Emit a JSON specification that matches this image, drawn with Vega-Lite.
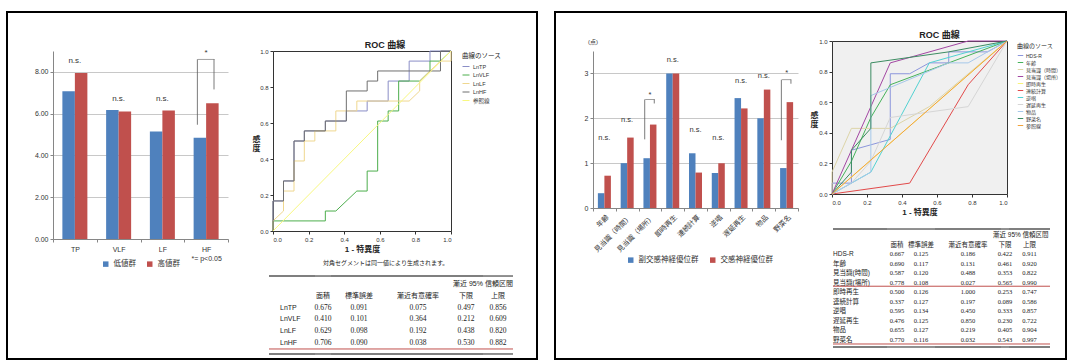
{
"$schema":"https://vega.github.io/schema/vega-lite/v6.json",
"padding":{"left":6,"top":11,"right":0,"bottom":0},
"background":"white",
"config":{"view":{"stroke":null},"font":"Liberation Sans, Noto Sans CJK JP","axis":{"labelColor":"#333333","titleColor":"#222222"},"legend":{"labelColor":"#333333","titleColor":"#222222"},"title":{"color":"#222222"}},
"datasets":{
"one":[{}],
"barsL":[{"cat":"TP","grp":"低値群","val":7.07},{"cat":"TP","grp":"高値群","val":7.95},{"cat":"VLF","grp":"低値群","val":6.18},{"cat":"VLF","grp":"高値群","val":6.10},{"cat":"LF","grp":"低値群","val":5.15},{"cat":"LF","grp":"高値群","val":6.15},{"cat":"HF","grp":"低値群","val":4.85},{"cat":"HF","grp":"高値群","val":6.50}],
"notesL":[{"cat":"TP","label":"n.s.","y":8.52},{"cat":"VLF","label":"n.s.","y":6.71},{"cat":"LF","label":"n.s.","y":6.71},{"cat":"HF","label":"*","y":8.92}],
"bracketL":[{"cat":"HF","lo":5.47,"top":8.6,"hiLo":7.16}],
"barsR":[{"cat":"年齢","grp":"副交感神経優位群","val":0.33},{"cat":"年齢","grp":"交感神経優位群","val":0.72},{"cat":"見当識（時間）","grp":"副交感神経優位群","val":1.0},{"cat":"見当識（時間）","grp":"交感神経優位群","val":1.57},{"cat":"見当識（場所）","grp":"副交感神経優位群","val":1.11},{"cat":"見当識（場所）","grp":"交感神経優位群","val":1.86},{"cat":"即時再生","grp":"副交感神経優位群","val":3.0},{"cat":"即時再生","grp":"交感神経優位群","val":3.0},{"cat":"連続計算","grp":"副交感神経優位群","val":1.22},{"cat":"連続計算","grp":"交感神経優位群","val":0.79},{"cat":"逆唱","grp":"副交感神経優位群","val":0.78},{"cat":"逆唱","grp":"交感神経優位群","val":1.0},{"cat":"遅延再生","grp":"副交感神経優位群","val":2.45},{"cat":"遅延再生","grp":"交感神経優位群","val":2.22},{"cat":"物品","grp":"副交感神経優位群","val":2.0},{"cat":"物品","grp":"交感神経優位群","val":2.64},{"cat":"野菜名","grp":"副交感神経優位群","val":0.89},{"cat":"野菜名","grp":"交感神経優位群","val":2.36}],
"notesR":[{"cat":"年齢","label":"n.s.","y":1.55},{"cat":"見当識（時間）","label":"n.s.","y":1.96},{"cat":"見当識（場所）","label":"*","y":2.51},{"cat":"即時再生","label":"n.s.","y":3.31},{"cat":"連続計算","label":"n.s.","y":1.75},{"cat":"逆唱","label":"n.s.","y":1.57},{"cat":"遅延再生","label":"n.s.","y":2.83},{"cat":"物品","label":"n.s.","y":2.94},{"cat":"野菜名","label":"*","y":3.01}],
"bracketR":[{"cat":"見当識（場所）","lo":1.53,"top":2.42,"hiLo":2.33},{"cat":"野菜名","lo":1.51,"top":2.86,"hiLo":2.77}],
"rocL":[
{"src":"LnTP","i":0,"fpr":0,"tpr":0},{"src":"LnTP","i":1,"fpr":0,"tpr":0.167},{"src":"LnTP","i":2,"fpr":0.059,"tpr":0.167},{"src":"LnTP","i":3,"fpr":0.059,"tpr":0.278},{"src":"LnTP","i":4,"fpr":0.118,"tpr":0.278},{"src":"LnTP","i":5,"fpr":0.118,"tpr":0.5},{"src":"LnTP","i":6,"fpr":0.176,"tpr":0.5},{"src":"LnTP","i":7,"fpr":0.176,"tpr":0.556},{"src":"LnTP","i":8,"fpr":0.294,"tpr":0.556},{"src":"LnTP","i":9,"fpr":0.294,"tpr":0.611},{"src":"LnTP","i":10,"fpr":0.412,"tpr":0.611},{"src":"LnTP","i":11,"fpr":0.412,"tpr":0.667},{"src":"LnTP","i":12,"fpr":0.529,"tpr":0.667},{"src":"LnTP","i":13,"fpr":0.529,"tpr":0.722},{"src":"LnTP","i":14,"fpr":0.647,"tpr":0.722},{"src":"LnTP","i":15,"fpr":0.647,"tpr":0.833},{"src":"LnTP","i":16,"fpr":0.765,"tpr":0.833},{"src":"LnTP","i":17,"fpr":0.765,"tpr":0.944},{"src":"LnTP","i":18,"fpr":0.882,"tpr":0.944},{"src":"LnTP","i":19,"fpr":0.882,"tpr":1},{"src":"LnTP","i":20,"fpr":1,"tpr":1},
{"src":"LnVLF","i":0,"fpr":0,"tpr":0},{"src":"LnVLF","i":1,"fpr":0,"tpr":0.056},{"src":"LnVLF","i":2,"fpr":0.294,"tpr":0.056},{"src":"LnVLF","i":3,"fpr":0.294,"tpr":0.111},{"src":"LnVLF","i":4,"fpr":0.353,"tpr":0.111},{"src":"LnVLF","i":5,"fpr":0.471,"tpr":0.222},{"src":"LnVLF","i":6,"fpr":0.529,"tpr":0.222},{"src":"LnVLF","i":7,"fpr":0.529,"tpr":0.333},{"src":"LnVLF","i":8,"fpr":0.588,"tpr":0.333},{"src":"LnVLF","i":9,"fpr":0.588,"tpr":0.611},{"src":"LnVLF","i":10,"fpr":0.647,"tpr":0.611},{"src":"LnVLF","i":11,"fpr":0.647,"tpr":0.667},{"src":"LnVLF","i":12,"fpr":0.706,"tpr":0.667},{"src":"LnVLF","i":13,"fpr":0.706,"tpr":0.833},{"src":"LnVLF","i":14,"fpr":0.824,"tpr":0.833},{"src":"LnVLF","i":15,"fpr":0.882,"tpr":0.889},{"src":"LnVLF","i":16,"fpr":0.882,"tpr":0.944},{"src":"LnVLF","i":17,"fpr":0.941,"tpr":0.944},{"src":"LnVLF","i":18,"fpr":1,"tpr":1},
{"src":"LnLF","i":0,"fpr":0,"tpr":0},{"src":"LnLF","i":1,"fpr":0,"tpr":0.056},{"src":"LnLF","i":2,"fpr":0.059,"tpr":0.111},{"src":"LnLF","i":3,"fpr":0.059,"tpr":0.222},{"src":"LnLF","i":4,"fpr":0.118,"tpr":0.222},{"src":"LnLF","i":5,"fpr":0.118,"tpr":0.389},{"src":"LnLF","i":6,"fpr":0.176,"tpr":0.389},{"src":"LnLF","i":7,"fpr":0.176,"tpr":0.5},{"src":"LnLF","i":8,"fpr":0.235,"tpr":0.5},{"src":"LnLF","i":9,"fpr":0.235,"tpr":0.556},{"src":"LnLF","i":10,"fpr":0.353,"tpr":0.556},{"src":"LnLF","i":11,"fpr":0.353,"tpr":0.667},{"src":"LnLF","i":12,"fpr":0.471,"tpr":0.667},{"src":"LnLF","i":13,"fpr":0.471,"tpr":0.722},{"src":"LnLF","i":14,"fpr":0.765,"tpr":0.722},{"src":"LnLF","i":15,"fpr":0.824,"tpr":0.778},{"src":"LnLF","i":16,"fpr":0.824,"tpr":0.833},{"src":"LnLF","i":17,"fpr":0.882,"tpr":0.889},{"src":"LnLF","i":18,"fpr":0.941,"tpr":0.944},{"src":"LnLF","i":19,"fpr":1,"tpr":0.944},{"src":"LnLF","i":20,"fpr":1,"tpr":1},
{"src":"LnHF","i":0,"fpr":0,"tpr":0},{"src":"LnHF","i":1,"fpr":0,"tpr":0.167},{"src":"LnHF","i":2,"fpr":0.059,"tpr":0.167},{"src":"LnHF","i":3,"fpr":0.059,"tpr":0.278},{"src":"LnHF","i":4,"fpr":0.118,"tpr":0.278},{"src":"LnHF","i":5,"fpr":0.118,"tpr":0.5},{"src":"LnHF","i":6,"fpr":0.176,"tpr":0.5},{"src":"LnHF","i":7,"fpr":0.176,"tpr":0.556},{"src":"LnHF","i":8,"fpr":0.294,"tpr":0.556},{"src":"LnHF","i":9,"fpr":0.294,"tpr":0.611},{"src":"LnHF","i":10,"fpr":0.412,"tpr":0.611},{"src":"LnHF","i":11,"fpr":0.412,"tpr":0.778},{"src":"LnHF","i":12,"fpr":0.529,"tpr":0.778},{"src":"LnHF","i":13,"fpr":0.529,"tpr":0.833},{"src":"LnHF","i":14,"fpr":0.588,"tpr":0.833},{"src":"LnHF","i":15,"fpr":0.588,"tpr":0.889},{"src":"LnHF","i":16,"fpr":0.941,"tpr":0.889},{"src":"LnHF","i":17,"fpr":0.941,"tpr":1},{"src":"LnHF","i":18,"fpr":1,"tpr":1},
{"src":"参照線","i":0,"fpr":0,"tpr":0},{"src":"参照線","i":1,"fpr":1,"tpr":1}
],
"rocR":[
{"src":"HDS-R","i":0,"fpr":0,"tpr":0},{"src":"HDS-R","i":1,"fpr":0,"tpr":0.071},{"src":"HDS-R","i":2,"fpr":0.111,"tpr":0.071},{"src":"HDS-R","i":3,"fpr":0.111,"tpr":0.286},{"src":"HDS-R","i":4,"fpr":0.333,"tpr":0.357},{"src":"HDS-R","i":5,"fpr":0.333,"tpr":0.786},{"src":"HDS-R","i":6,"fpr":0.444,"tpr":0.786},{"src":"HDS-R","i":7,"fpr":0.556,"tpr":0.857},{"src":"HDS-R","i":8,"fpr":0.667,"tpr":0.857},{"src":"HDS-R","i":9,"fpr":0.667,"tpr":0.929},{"src":"HDS-R","i":10,"fpr":0.889,"tpr":0.929},{"src":"HDS-R","i":11,"fpr":1,"tpr":1},
{"src":"年齢","i":0,"fpr":0,"tpr":0},{"src":"年齢","i":1,"fpr":0.111,"tpr":0.214},{"src":"年齢","i":2,"fpr":0.222,"tpr":0.5},{"src":"年齢","i":3,"fpr":0.333,"tpr":0.714},{"src":"年齢","i":4,"fpr":0.667,"tpr":0.857},{"src":"年齢","i":5,"fpr":1,"tpr":1},
{"src":"見当識（時間）","i":0,"fpr":0,"tpr":0},{"src":"見当識（時間）","i":1,"fpr":0,"tpr":0.143},{"src":"見当識（時間）","i":2,"fpr":0.111,"tpr":0.429},{"src":"見当識（時間）","i":3,"fpr":0.333,"tpr":0.429},{"src":"見当識（時間）","i":4,"fpr":0.556,"tpr":0.571},{"src":"見当識（時間）","i":5,"fpr":1,"tpr":1},
{"src":"見当識（場所）","i":0,"fpr":0,"tpr":0},{"src":"見当識（場所）","i":1,"fpr":0.111,"tpr":0.286},{"src":"見当識（場所）","i":2,"fpr":0.222,"tpr":0.571},{"src":"見当識（場所）","i":3,"fpr":0.333,"tpr":0.857},{"src":"見当識（場所）","i":4,"fpr":0.778,"tpr":1},{"src":"見当識（場所）","i":5,"fpr":1,"tpr":1},
{"src":"即時再生","i":0,"fpr":0,"tpr":0},{"src":"即時再生","i":1,"fpr":1,"tpr":1},
{"src":"連続計算","i":0,"fpr":0,"tpr":0},{"src":"連続計算","i":1,"fpr":0.444,"tpr":0.071},{"src":"連続計算","i":2,"fpr":0.778,"tpr":0.714},{"src":"連続計算","i":3,"fpr":1,"tpr":1},
{"src":"逆唱","i":0,"fpr":0,"tpr":0},{"src":"逆唱","i":1,"fpr":0.222,"tpr":0.143},{"src":"逆唱","i":2,"fpr":0.556,"tpr":0.857},{"src":"逆唱","i":3,"fpr":1,"tpr":1},
{"src":"遅延再生","i":0,"fpr":0,"tpr":0},{"src":"遅延再生","i":1,"fpr":0.111,"tpr":0.071},{"src":"遅延再生","i":2,"fpr":0.222,"tpr":0.214},{"src":"遅延再生","i":3,"fpr":0.333,"tpr":0.5},{"src":"遅延再生","i":4,"fpr":0.556,"tpr":0.536},{"src":"遅延再生","i":5,"fpr":0.778,"tpr":0.571},{"src":"遅延再生","i":6,"fpr":1,"tpr":1},
{"src":"物品","i":0,"fpr":0,"tpr":0},{"src":"物品","i":1,"fpr":0.111,"tpr":0.071},{"src":"物品","i":2,"fpr":0.222,"tpr":0.143},{"src":"物品","i":3,"fpr":0.222,"tpr":0.643},{"src":"物品","i":4,"fpr":0.667,"tpr":0.857},{"src":"物品","i":5,"fpr":0.778,"tpr":0.857},{"src":"物品","i":6,"fpr":0.889,"tpr":0.929},{"src":"物品","i":7,"fpr":1,"tpr":1},
{"src":"野菜名","i":0,"fpr":0,"tpr":0},{"src":"野菜名","i":1,"fpr":0.111,"tpr":0.143},{"src":"野菜名","i":2,"fpr":0.111,"tpr":0.286},{"src":"野菜名","i":3,"fpr":0.222,"tpr":0.429},{"src":"野菜名","i":4,"fpr":0.222,"tpr":0.857},{"src":"野菜名","i":5,"fpr":0.667,"tpr":0.929},{"src":"野菜名","i":6,"fpr":1,"tpr":1},
{"src":"参照線","i":0,"fpr":0,"tpr":0},{"src":"参照線","i":1,"fpr":1,"tpr":1}
],
"tblL":[{"name":"LnTP","area":0.676,"se":0.091,"p":0.075,"lo":0.497,"hi":0.856},{"name":"LnVLF","area":0.410,"se":0.101,"p":0.364,"lo":0.212,"hi":0.609},{"name":"LnLF","area":0.629,"se":0.098,"p":0.192,"lo":0.438,"hi":0.820},{"name":"LnHF","area":0.706,"se":0.090,"p":0.038,"lo":0.530,"hi":0.882}],
"tblR":[{"name":"HDS-R","area":0.667,"se":0.125,"p":0.186,"lo":0.422,"hi":0.911},{"name":"年齢","area":0.690,"se":0.117,"p":0.131,"lo":0.461,"hi":0.920},{"name":"見当識(時間)","area":0.587,"se":0.120,"p":0.488,"lo":0.353,"hi":0.822},{"name":"見当識(場所)","area":0.778,"se":0.108,"p":0.027,"lo":0.565,"hi":0.990},{"name":"即時再生","area":0.500,"se":0.126,"p":1.000,"lo":0.253,"hi":0.747},{"name":"連続計算","area":0.337,"se":0.127,"p":0.197,"lo":0.089,"hi":0.586},{"name":"逆唱","area":0.595,"se":0.134,"p":0.450,"lo":0.333,"hi":0.857},{"name":"遅延再生","area":0.476,"se":0.125,"p":0.850,"lo":0.230,"hi":0.722},{"name":"物品","area":0.655,"se":0.127,"p":0.219,"lo":0.405,"hi":0.904},{"name":"野菜名","area":0.770,"se":0.116,"p":0.032,"lo":0.543,"hi":0.997}]
},
"spacing":0,
"bounds":"flush",
"resolve":{"scale":{"x":"independent","y":"independent","color":"independent","xOffset":"independent"},"legend":{"color":"independent"},"axis":{"x":"independent","y":"independent"}},
"hconcat":[
{"vconcat":[
 {"width":530,"height":347,"data":{"name":"one"},"mark":{"type":"point","size":0,"filled":true,"opacity":0},"view":{"stroke":"#000000","strokeWidth":2}}
],"spacing":0,"bounds":"flush"},
{"hconcat":[
 {"width":548,"height":0.01,"data":{"name":"one"},"mark":{"type":"point","size":0,"filled":true,"opacity":0}},
 {"width":511,"height":347,"data":{"name":"one"},"mark":{"type":"point","size":0,"filled":true,"opacity":0},"view":{"stroke":"#000000","strokeWidth":2}}
],"spacing":0,"bounds":"flush"},
{"hconcat":[
 {"width":46,"height":0.01,"data":{"name":"one"},"mark":{"type":"point","size":0,"filled":true,"opacity":0}},
 {"vconcat":[
  {"width":0.01,"height":39,"data":{"name":"one"},"mark":{"type":"point","size":0,"filled":true,"opacity":0}},
  {"width":175,"height":188,"layer":[
    {"data":{"name":"barsL"},"mark":{"type":"bar"},"encoding":{
     "x":{"field":"cat","type":"nominal","scale":{"domain":["TP","VLF","LF","HF"],"paddingInner":0,"paddingOuter":0},"axis":{"title":null,"labelAngle":0,"tickBand":"extent","tickSize":3,"domainColor":"#868686","tickColor":"#868686","labelFontSize":7,"labelPadding":3,"labelLineHeight":9,"labelExpr":"datum.value == 'HF' ? ['HF', '*= p<0.05'] : datum.value"}},
     "xOffset":{"field":"grp","type":"nominal","scale":{"domain":["低値群","高値群"],"paddingInner":0,"paddingOuter":0.75}},
     "y":{"field":"val","type":"quantitative","scale":{"domain":[0,9],"nice":false},"axis":{"title":null,"values":[0,1,2,3,4,5,6,7,8,9],"format":".2f","tickSize":3,"labelFontSize":7,"labelPadding":2,"domainColor":"#868686","tickColor":"#868686","gridColor":"#c8c8c8"}},
     "color":{"field":"grp","type":"nominal","scale":{"domain":["低値群","高値群"],"range":["#4f81bd","#c0504d"]},"legend":{"title":null,"orient":"none","legendX":95,"legendY":248,"direction":"horizontal","symbolType":"square","symbolSize":30,"labelFontSize":7.5,"columnPadding":10}}}},
    {"data":{"name":"notesL"},"mark":{"type":"text","fontSize":8,"color":"#333333"},"encoding":{
     "x":{"field":"cat","type":"nominal","scale":{"domain":["TP","VLF","LF","HF"],"paddingInner":0,"paddingOuter":0}},
     "y":{"field":"y","type":"quantitative","scale":{"domain":[0,9],"nice":false}},
     "text":{"field":"label"}}},
    {"data":{"name":"bracketL"},"mark":{"type":"rule","color":"#595959","strokeWidth":0.8},"encoding":{
     "x":{"field":"cat","type":"nominal","bandPosition":0.3,"scale":{"domain":["TP","VLF","LF","HF"],"paddingInner":0,"paddingOuter":0}},
     "y":{"field":"lo","type":"quantitative","scale":{"domain":[0,9],"nice":false}},"y2":{"field":"top"}}},
    {"data":{"name":"bracketL"},"mark":{"type":"rule","color":"#595959","strokeWidth":0.8},"encoding":{
     "x":{"field":"cat","type":"nominal","bandPosition":0.68,"scale":{"domain":["TP","VLF","LF","HF"],"paddingInner":0,"paddingOuter":0}},
     "y":{"field":"hiLo","type":"quantitative","scale":{"domain":[0,9],"nice":false}},"y2":{"field":"top"}}},
    {"data":{"name":"bracketL"},"mark":{"type":"tick","color":"#595959","thickness":0.8,"size":17},"encoding":{
     "x":{"field":"cat","type":"nominal","scale":{"domain":["TP","VLF","LF","HF"],"paddingInner":0,"paddingOuter":0}},
     "y":{"field":"top","type":"quantitative","scale":{"domain":[0,9],"nice":false}}}}
  ]}
 ],"spacing":0,"bounds":"flush"}
],"spacing":0,"bounds":"flush"},
{"hconcat":[
 {"width":266,"height":0.01,"data":{"name":"one"},"mark":{"type":"point","size":0,"filled":true,"opacity":0}},
 {"vconcat":[
  {"width":0.01,"height":39,"data":{"name":"one"},"mark":{"type":"point","size":0,"filled":true,"opacity":0}},
  {"width":178,"height":180,"view":{"stroke":"#333333","strokeWidth":1},
    "title":{"text":"ROC 曲線","fontSize":9,"fontWeight":"bold","frame":"group","anchor":"middle","offset":-2,"dx":23},
    "data":{"name":"rocL"},"mark":{"type":"line","strokeWidth":1},
    "encoding":{
     "x":{"field":"fpr","type":"quantitative","scale":{"domain":[0,1],"nice":false},"axis":{"title":"1 - 特異度","values":[0,0.2,0.4,0.6,0.8,1],"format":".1f","grid":false,"domain":false,"tickSize":3,"tickColor":"#333333","labelFontSize":6,"labelPadding":2,"titleFontSize":8,"titleFontWeight":"bold","titlePadding":3}},
     "y":{"field":"tpr","type":"quantitative","scale":{"domain":[0,1],"nice":false},"axis":{"title":["感","度"],"titleAngle":0,"titleAlign":"center","titleBaseline":"middle","titleX":-17,"titleY":88,"titleFontSize":8,"titleFontWeight":"bold","titleLineHeight":9,"values":[0,0.2,0.4,0.6,0.8,1],"format":".1f","grid":false,"domain":false,"tickSize":3,"tickColor":"#333333","labelFontSize":6,"labelPadding":2}},
     "color":{"field":"src","type":"nominal","scale":{"domain":["LnTP","LnVLF","LnLF","LnHF","参照線"],"range":["#8a8ec6","#4cae4c","#efd78f","#6f6f6f","#f8f880"]},"legend":{"title":"曲線のソース","orient":"none","legendX":455,"legendY":41,"padding":0,"titleFontSize":6.5,"titleFontWeight":"normal","titlePadding":3,"labelFontSize":5.5,"symbolSize":49,"symbolStrokeWidth":1,"rowPadding":0.5,"labelOffset":3}},
     "order":{"field":"i","type":"quantitative"}}}
 ],"spacing":0,"bounds":"flush"}
],"spacing":0,"bounds":"flush"},
{"hconcat":[
 {"width":586,"height":0.01,"data":{"name":"one"},"mark":{"type":"point","size":0,"filled":true,"opacity":0}},
 {"vconcat":[
  {"width":0.01,"height":39,"data":{"name":"one"},"mark":{"type":"point","size":0,"filled":true,"opacity":0}},
  {"width":205,"height":157,
     "title":{"text":"(点)","anchor":"start","frame":"group","fontSize":6,"fontWeight":"normal","offset":6,"dx":-5,"color":"#333333"},
     "layer":[
     {"data":{"name":"barsR"},"mark":{"type":"bar"},"encoding":{
      "x":{"field":"cat","type":"nominal","scale":{"domain":["年齢","見当識（時間）","見当識（場所）","即時再生","連続計算","逆唱","遅延再生","物品","野菜名"],"paddingInner":0,"paddingOuter":0},"axis":{"title":null,"labelAngle":-45,"tickBand":"extent","tickSize":3,"domainColor":"#868686","tickColor":"#868686","labelFontSize":7,"labelPadding":2}},
      "xOffset":{"field":"grp","type":"nominal","scale":{"domain":["副交感神経優位群","交感神経優位群"],"paddingInner":0,"paddingOuter":0.75}},
      "y":{"field":"val","type":"quantitative","scale":{"domain":[0,3.5],"nice":false},"axis":{"title":null,"values":[0,0.5,1,1.5,2,2.5,3,3.5],"format":"~g","tickSize":3,"labelFontSize":7,"labelPadding":2,"domainColor":"#868686","tickColor":"#868686","gridColor":"#c8c8c8"}},
      "color":{"field":"grp","type":"nominal","scale":{"domain":["副交感神経優位群","交感神経優位群"],"range":["#4f81bd","#c0504d"]},"legend":{"title":null,"orient":"none","legendX":620,"legendY":244,"direction":"horizontal","symbolType":"square","symbolSize":30,"labelFontSize":7.5,"columnPadding":10}}}},
     {"data":{"name":"notesR"},"mark":{"type":"text","fontSize":7.5,"color":"#333333"},"encoding":{
      "x":{"field":"cat","type":"nominal","scale":{"domain":["年齢","見当識（時間）","見当識（場所）","即時再生","連続計算","逆唱","遅延再生","物品","野菜名"],"paddingInner":0,"paddingOuter":0}},
      "y":{"field":"y","type":"quantitative","scale":{"domain":[0,3.5],"nice":false}},
      "text":{"field":"label"}}},
     {"data":{"name":"bracketR"},"mark":{"type":"rule","color":"#595959","strokeWidth":0.8},"encoding":{
      "x":{"field":"cat","type":"nominal","bandPosition":0.27,"scale":{"domain":["年齢","見当識（時間）","見当識（場所）","即時再生","連続計算","逆唱","遅延再生","物品","野菜名"],"paddingInner":0,"paddingOuter":0}},
      "y":{"field":"lo","type":"quantitative","scale":{"domain":[0,3.5],"nice":false}},"y2":{"field":"top"}}},
     {"data":{"name":"bracketR"},"mark":{"type":"rule","color":"#595959","strokeWidth":0.8},"encoding":{
      "x":{"field":"cat","type":"nominal","bandPosition":0.69,"scale":{"domain":["年齢","見当識（時間）","見当識（場所）","即時再生","連続計算","逆唱","遅延再生","物品","野菜名"],"paddingInner":0,"paddingOuter":0}},
      "y":{"field":"hiLo","type":"quantitative","scale":{"domain":[0,3.5],"nice":false}},"y2":{"field":"top"}}},
     {"data":{"name":"bracketR"},"mark":{"type":"tick","color":"#595959","thickness":0.8,"size":9.5},"encoding":{
      "x":{"field":"cat","type":"nominal","scale":{"domain":["年齢","見当識（時間）","見当識（場所）","即時再生","連続計算","逆唱","遅延再生","物品","野菜名"],"paddingInner":0,"paddingOuter":0}},
      "y":{"field":"top","type":"quantitative","scale":{"domain":[0,3.5],"nice":false}}}}
  ]}
 ],"spacing":0,"bounds":"flush"}
],"spacing":0,"bounds":"flush"},
{"hconcat":[
 {"width":825,"height":0.01,"data":{"name":"one"},"mark":{"type":"point","size":0,"filled":true,"opacity":0}},
 {"vconcat":[
  {"width":0.01,"height":29,"data":{"name":"one"},"mark":{"type":"point","size":0,"filled":true,"opacity":0}},
  {"width":175,"height":153,"view":{"stroke":"#333333","strokeWidth":1,"fill":"#f0f0f0"},
    "title":{"text":"ROC 曲線","fontSize":9,"fontWeight":"bold","frame":"group","anchor":"middle","offset":-2,"dx":20},
    "data":{"name":"rocR"},"mark":{"type":"line","strokeWidth":1},
    "encoding":{
     "x":{"field":"fpr","type":"quantitative","scale":{"domain":[0,1],"nice":false},"axis":{"title":"1 - 特異度","values":[0,0.2,0.4,0.6,0.8,1],"format":".1f","grid":false,"domain":false,"tickSize":3,"tickColor":"#333333","labelFontSize":6,"labelPadding":2,"titleFontSize":8,"titleFontWeight":"bold","titlePadding":3}},
     "y":{"field":"tpr","type":"quantitative","scale":{"domain":[0,1],"nice":false},"axis":{"title":["感","度"],"titleAngle":0,"titleAlign":"center","titleBaseline":"middle","titleX":-18,"titleY":74,"titleFontSize":8,"titleFontWeight":"bold","titleLineHeight":9,"values":[0,0.2,0.4,0.6,0.8,1],"format":".1f","grid":false,"domain":false,"tickSize":3,"tickColor":"#333333","labelFontSize":6,"labelPadding":2}},
     "color":{"field":"src","type":"nominal","scale":{"domain":["HDS-R","年齢","見当識（時間）","見当識（場所）","即時再生","連続計算","逆唱","遅延再生","物品","野菜名","参照線"],"range":["#8c96dc","#45b25a","#ddd5a8","#a347a3","#f7f27a","#e24a4a","#52d2d2","#d6d6d6","#a6c8ea","#3c8c62","#f2a33a"]},"legend":{"title":"曲線のソース","orient":"none","legendX":1010,"legendY":31,"padding":0,"titleFontSize":6,"titleFontWeight":"normal","titlePadding":3,"labelFontSize":5,"symbolSize":30,"symbolStrokeWidth":1,"rowPadding":0,"labelOffset":2}},
     "order":{"field":"i","type":"quantitative"}}}
 ],"spacing":0,"bounds":"flush"}
],"spacing":0,"bounds":"flush"},
{"hconcat":[
 {"width":262,"height":0.01,"data":{"name":"one"},"mark":{"type":"point","size":0,"filled":true,"opacity":0}},
 {"vconcat":[
  {"width":0.01,"height":264,"data":{"name":"one"},"mark":{"type":"point","size":0,"filled":true,"opacity":0}},
  {"hconcat":[
   {"width":46,"height":75,"layer":[
     {"data":{"name":"tblL"},"mark":{"type":"text","font":"Liberation Sans","fontSize":7,"color":"#222222","align":"left","dx":-12},"encoding":{"y":{"field":"name","type":"nominal","scale":{"type":"point","domain":["ci","hdr","LnTP","LnVLF","LnLF","LnHF"],"padding":0.68},"axis":null},"text":{"field":"name"}}},
     {"data":{"name":"one"},"mark":{"type":"rule","color":"#555555","strokeWidth":1.3,"yOffset":-8},"encoding":{"y":{"datum":"ci","type":"nominal","scale":{"type":"point","domain":["ci","hdr","LnTP","LnVLF","LnLF","LnHF"],"padding":0.68},"axis":null}}},
     {"data":{"name":"one"},"mark":{"type":"rule","color":"#c0504d","strokeWidth":1,"yOffset":6},"encoding":{"y":{"datum":"LnHF","type":"nominal","scale":{"type":"point","domain":["ci","hdr","LnTP","LnVLF","LnLF","LnHF"],"padding":0.68},"axis":null}}},
     {"data":{"name":"one"},"mark":{"type":"rule","color":"#555555","strokeWidth":1.3,"yOffset":11},"encoding":{"y":{"datum":"LnHF","type":"nominal","scale":{"type":"point","domain":["ci","hdr","LnTP","LnVLF","LnLF","LnHF"],"padding":0.68},"axis":null}}}
   ]},
   {"width":16,"height":75,
    "title":{"text":"対角セグメントは同一値により生成されます。","fontSize":6,"fontWeight":"normal","anchor":"start","frame":"group","offset":9,"dx":8},
    "layer":[
     {"data":{"name":"tblL"},"mark":{"type":"text","font":"Liberation Serif","fontSize":7.5,"color":"#222222"},"encoding":{"y":{"field":"name","type":"nominal","scale":{"type":"point","domain":["ci","hdr","LnTP","LnVLF","LnLF","LnHF"],"padding":0.68},"axis":null},"text":{"field":"area","type":"quantitative","format":".3f"}}},
     {"data":{"name":"one"},"mark":{"type":"text","fontSize":7,"color":"#222222"},"encoding":{"y":{"datum":"hdr","type":"nominal","scale":{"type":"point","domain":["ci","hdr","LnTP","LnVLF","LnLF","LnHF"],"padding":0.68},"axis":null},"text":{"value":"面積"}}},
     {"data":{"name":"one"},"mark":{"type":"rule","color":"#555555","strokeWidth":1.3,"yOffset":-8},"encoding":{"y":{"datum":"ci","type":"nominal","scale":{"type":"point","domain":["ci","hdr","LnTP","LnVLF","LnLF","LnHF"],"padding":0.68},"axis":null}}},
     {"data":{"name":"one"},"mark":{"type":"rule","color":"#c0504d","strokeWidth":1,"yOffset":6},"encoding":{"y":{"datum":"LnHF","type":"nominal","scale":{"type":"point","domain":["ci","hdr","LnTP","LnVLF","LnLF","LnHF"],"padding":0.68},"axis":null}}},
     {"data":{"name":"one"},"mark":{"type":"rule","color":"#555555","strokeWidth":1.3,"yOffset":11},"encoding":{"y":{"datum":"LnHF","type":"nominal","scale":{"type":"point","domain":["ci","hdr","LnTP","LnVLF","LnLF","LnHF"],"padding":0.68},"axis":null}}}
   ]},
   {"width":56,"height":75,"layer":[
     {"data":{"name":"tblL"},"mark":{"type":"text","font":"Liberation Serif","fontSize":7.5,"color":"#222222"},"encoding":{"y":{"field":"name","type":"nominal","scale":{"type":"point","domain":["ci","hdr","LnTP","LnVLF","LnLF","LnHF"],"padding":0.68},"axis":null},"text":{"field":"se","type":"quantitative","format":".3f"}}},
     {"data":{"name":"one"},"mark":{"type":"text","fontSize":7,"color":"#222222"},"encoding":{"y":{"datum":"hdr","type":"nominal","scale":{"type":"point","domain":["ci","hdr","LnTP","LnVLF","LnLF","LnHF"],"padding":0.68},"axis":null},"text":{"value":"標準誤差"}}},
     {"data":{"name":"one"},"mark":{"type":"rule","color":"#555555","strokeWidth":1.3,"yOffset":-8},"encoding":{"y":{"datum":"ci","type":"nominal","scale":{"type":"point","domain":["ci","hdr","LnTP","LnVLF","LnLF","LnHF"],"padding":0.68},"axis":null}}},
     {"data":{"name":"one"},"mark":{"type":"rule","color":"#c0504d","strokeWidth":1,"yOffset":6},"encoding":{"y":{"datum":"LnHF","type":"nominal","scale":{"type":"point","domain":["ci","hdr","LnTP","LnVLF","LnLF","LnHF"],"padding":0.68},"axis":null}}},
     {"data":{"name":"one"},"mark":{"type":"rule","color":"#555555","strokeWidth":1.3,"yOffset":11},"encoding":{"y":{"datum":"LnHF","type":"nominal","scale":{"type":"point","domain":["ci","hdr","LnTP","LnVLF","LnLF","LnHF"],"padding":0.68},"axis":null}}}
   ]},
   {"width":62,"height":75,"layer":[
     {"data":{"name":"tblL"},"mark":{"type":"text","font":"Liberation Serif","fontSize":7.5,"color":"#222222"},"encoding":{"y":{"field":"name","type":"nominal","scale":{"type":"point","domain":["ci","hdr","LnTP","LnVLF","LnLF","LnHF"],"padding":0.68},"axis":null},"text":{"field":"p","type":"quantitative","format":".3f"}}},
     {"data":{"name":"one"},"mark":{"type":"text","fontSize":7,"color":"#222222"},"encoding":{"y":{"datum":"hdr","type":"nominal","scale":{"type":"point","domain":["ci","hdr","LnTP","LnVLF","LnLF","LnHF"],"padding":0.68},"axis":null},"text":{"value":"漸近有意確率"}}},
     {"data":{"name":"one"},"mark":{"type":"rule","color":"#555555","strokeWidth":1.3,"yOffset":-8},"encoding":{"y":{"datum":"ci","type":"nominal","scale":{"type":"point","domain":["ci","hdr","LnTP","LnVLF","LnLF","LnHF"],"padding":0.68},"axis":null}}},
     {"data":{"name":"one"},"mark":{"type":"rule","color":"#c0504d","strokeWidth":1,"yOffset":6},"encoding":{"y":{"datum":"LnHF","type":"nominal","scale":{"type":"point","domain":["ci","hdr","LnTP","LnVLF","LnLF","LnHF"],"padding":0.68},"axis":null}}},
     {"data":{"name":"one"},"mark":{"type":"rule","color":"#555555","strokeWidth":1.3,"yOffset":11},"encoding":{"y":{"datum":"LnHF","type":"nominal","scale":{"type":"point","domain":["ci","hdr","LnTP","LnVLF","LnLF","LnHF"],"padding":0.68},"axis":null}}}
   ]},
   {"width":34,"height":75,"layer":[
     {"data":{"name":"tblL"},"mark":{"type":"text","font":"Liberation Serif","fontSize":7.5,"color":"#222222"},"encoding":{"y":{"field":"name","type":"nominal","scale":{"type":"point","domain":["ci","hdr","LnTP","LnVLF","LnLF","LnHF"],"padding":0.68},"axis":null},"text":{"field":"lo","type":"quantitative","format":".3f"}}},
     {"data":{"name":"one"},"mark":{"type":"text","fontSize":7,"color":"#222222"},"encoding":{"y":{"datum":"hdr","type":"nominal","scale":{"type":"point","domain":["ci","hdr","LnTP","LnVLF","LnLF","LnHF"],"padding":0.68},"axis":null},"text":{"value":"下限"}}},
     {"data":{"name":"one"},"mark":{"type":"text","fontSize":7,"color":"#222222","align":"left","dx":-13},"encoding":{"y":{"datum":"ci","type":"nominal","scale":{"type":"point","domain":["ci","hdr","LnTP","LnVLF","LnLF","LnHF"],"padding":0.68},"axis":null},"text":{"value":"漸近 95% 信頼区間"}}},
     {"data":{"name":"one"},"mark":{"type":"rule","color":"#555555","strokeWidth":1.3,"yOffset":-8},"encoding":{"y":{"datum":"ci","type":"nominal","scale":{"type":"point","domain":["ci","hdr","LnTP","LnVLF","LnLF","LnHF"],"padding":0.68},"axis":null}}},
     {"data":{"name":"one"},"mark":{"type":"rule","color":"#c0504d","strokeWidth":1,"yOffset":6},"encoding":{"y":{"datum":"LnHF","type":"nominal","scale":{"type":"point","domain":["ci","hdr","LnTP","LnVLF","LnLF","LnHF"],"padding":0.68},"axis":null}}},
     {"data":{"name":"one"},"mark":{"type":"rule","color":"#555555","strokeWidth":1.3,"yOffset":11},"encoding":{"y":{"datum":"LnHF","type":"nominal","scale":{"type":"point","domain":["ci","hdr","LnTP","LnVLF","LnLF","LnHF"],"padding":0.68},"axis":null}}}
   ]},
   {"width":30,"height":75,"layer":[
     {"data":{"name":"tblL"},"mark":{"type":"text","font":"Liberation Serif","fontSize":7.5,"color":"#222222"},"encoding":{"y":{"field":"name","type":"nominal","scale":{"type":"point","domain":["ci","hdr","LnTP","LnVLF","LnLF","LnHF"],"padding":0.68},"axis":null},"text":{"field":"hi","type":"quantitative","format":".3f"}}},
     {"data":{"name":"one"},"mark":{"type":"text","fontSize":7,"color":"#222222"},"encoding":{"y":{"datum":"hdr","type":"nominal","scale":{"type":"point","domain":["ci","hdr","LnTP","LnVLF","LnLF","LnHF"],"padding":0.68},"axis":null},"text":{"value":"上限"}}},
     {"data":{"name":"one"},"mark":{"type":"rule","color":"#555555","strokeWidth":1.3,"yOffset":-8},"encoding":{"y":{"datum":"ci","type":"nominal","scale":{"type":"point","domain":["ci","hdr","LnTP","LnVLF","LnLF","LnHF"],"padding":0.68},"axis":null}}},
     {"data":{"name":"one"},"mark":{"type":"rule","color":"#c0504d","strokeWidth":1,"yOffset":6},"encoding":{"y":{"datum":"LnHF","type":"nominal","scale":{"type":"point","domain":["ci","hdr","LnTP","LnVLF","LnLF","LnHF"],"padding":0.68},"axis":null}}},
     {"data":{"name":"one"},"mark":{"type":"rule","color":"#555555","strokeWidth":1.3,"yOffset":11},"encoding":{"y":{"datum":"LnHF","type":"nominal","scale":{"type":"point","domain":["ci","hdr","LnTP","LnVLF","LnLF","LnHF"],"padding":0.68},"axis":null}}}
   ]}
  ],"spacing":0,"bounds":"flush","resolve":{"scale":{"y":"independent"}}}
 ],"spacing":0,"bounds":"flush"}
],"spacing":0,"bounds":"flush"},
{"hconcat":[
 {"width":826,"height":0.01,"data":{"name":"one"},"mark":{"type":"point","size":0,"filled":true,"opacity":0}},
 {"vconcat":[
  {"width":0.01,"height":217,"data":{"name":"one"},"mark":{"type":"point","size":0,"filled":true,"opacity":0}},
  {"hconcat":[
   {"width":54,"height":117,"layer":[
     {"data":{"name":"tblR"},"mark":{"type":"text","fontSize":6.5,"color":"#222222","align":"left","dx":-27},"encoding":{"y":{"field":"name","type":"nominal","scale":{"type":"point","domain":["ci","hdr","HDS-R","年齢","見当識(時間)","見当識(場所)","即時再生","連続計算","逆唱","遅延再生","物品","野菜名"],"padding":0.63},"axis":null},"text":{"field":"name"}}},
     {"data":{"name":"one"},"mark":{"type":"rule","color":"#555555","strokeWidth":1.3,"yOffset":-6},"encoding":{"y":{"datum":"ci","type":"nominal","scale":{"type":"point","domain":["ci","hdr","HDS-R","年齢","見当識(時間)","見当識(場所)","即時再生","連続計算","逆唱","遅延再生","物品","野菜名"],"padding":0.63},"axis":null}}},
     {"data":{"name":"one"},"mark":{"type":"rule","color":"#c0504d","strokeWidth":1,"yOffset":3.5},"encoding":{"y":{"datum":"見当識(場所)","type":"nominal","scale":{"type":"point","domain":["ci","hdr","HDS-R","年齢","見当識(時間)","見当識(場所)","即時再生","連続計算","逆唱","遅延再生","物品","野菜名"],"padding":0.63},"axis":null}}},
     {"data":{"name":"one"},"mark":{"type":"rule","color":"#c0504d","strokeWidth":1,"yOffset":4},"encoding":{"y":{"datum":"野菜名","type":"nominal","scale":{"type":"point","domain":["ci","hdr","HDS-R","年齢","見当識(時間)","見当識(場所)","即時再生","連続計算","逆唱","遅延再生","物品","野菜名"],"padding":0.63},"axis":null}}},
     {"data":{"name":"one"},"mark":{"type":"rule","color":"#555555","strokeWidth":1.3,"yOffset":7},"encoding":{"y":{"datum":"野菜名","type":"nominal","scale":{"type":"point","domain":["ci","hdr","HDS-R","年齢","見当識(時間)","見当識(場所)","即時再生","連続計算","逆唱","遅延再生","物品","野菜名"],"padding":0.63},"axis":null}}}
   ]},
   {"width":20,"height":117,"layer":[
     {"data":{"name":"tblR"},"mark":{"type":"text","font":"Liberation Serif","fontSize":6.5,"color":"#222222"},"encoding":{"y":{"field":"name","type":"nominal","scale":{"type":"point","domain":["ci","hdr","HDS-R","年齢","見当識(時間)","見当識(場所)","即時再生","連続計算","逆唱","遅延再生","物品","野菜名"],"padding":0.63},"axis":null},"text":{"field":"area","type":"quantitative","format":".3f"}}},
     {"data":{"name":"one"},"mark":{"type":"text","fontSize":6.5,"color":"#222222"},"encoding":{"y":{"datum":"hdr","type":"nominal","scale":{"type":"point","domain":["ci","hdr","HDS-R","年齢","見当識(時間)","見当識(場所)","即時再生","連続計算","逆唱","遅延再生","物品","野菜名"],"padding":0.63},"axis":null},"text":{"value":"面積"}}},
     {"data":{"name":"one"},"mark":{"type":"rule","color":"#555555","strokeWidth":1.3,"yOffset":-6},"encoding":{"y":{"datum":"ci","type":"nominal","scale":{"type":"point","domain":["ci","hdr","HDS-R","年齢","見当識(時間)","見当識(場所)","即時再生","連続計算","逆唱","遅延再生","物品","野菜名"],"padding":0.63},"axis":null}}},
     {"data":{"name":"one"},"mark":{"type":"rule","color":"#c0504d","strokeWidth":1,"yOffset":3.5},"encoding":{"y":{"datum":"見当識(場所)","type":"nominal","scale":{"type":"point","domain":["ci","hdr","HDS-R","年齢","見当識(時間)","見当識(場所)","即時再生","連続計算","逆唱","遅延再生","物品","野菜名"],"padding":0.63},"axis":null}}},
     {"data":{"name":"one"},"mark":{"type":"rule","color":"#c0504d","strokeWidth":1,"yOffset":4},"encoding":{"y":{"datum":"野菜名","type":"nominal","scale":{"type":"point","domain":["ci","hdr","HDS-R","年齢","見当識(時間)","見当識(場所)","即時再生","連続計算","逆唱","遅延再生","物品","野菜名"],"padding":0.63},"axis":null}}},
     {"data":{"name":"one"},"mark":{"type":"rule","color":"#555555","strokeWidth":1.3,"yOffset":7},"encoding":{"y":{"datum":"野菜名","type":"nominal","scale":{"type":"point","domain":["ci","hdr","HDS-R","年齢","見当識(時間)","見当識(場所)","即時再生","連続計算","逆唱","遅延再生","物品","野菜名"],"padding":0.63},"axis":null}}}
   ]},
   {"width":28,"height":117,"layer":[
     {"data":{"name":"tblR"},"mark":{"type":"text","font":"Liberation Serif","fontSize":6.5,"color":"#222222"},"encoding":{"y":{"field":"name","type":"nominal","scale":{"type":"point","domain":["ci","hdr","HDS-R","年齢","見当識(時間)","見当識(場所)","即時再生","連続計算","逆唱","遅延再生","物品","野菜名"],"padding":0.63},"axis":null},"text":{"field":"se","type":"quantitative","format":".3f"}}},
     {"data":{"name":"one"},"mark":{"type":"text","fontSize":6.5,"color":"#222222"},"encoding":{"y":{"datum":"hdr","type":"nominal","scale":{"type":"point","domain":["ci","hdr","HDS-R","年齢","見当識(時間)","見当識(場所)","即時再生","連続計算","逆唱","遅延再生","物品","野菜名"],"padding":0.63},"axis":null},"text":{"value":"標準誤差"}}},
     {"data":{"name":"one"},"mark":{"type":"rule","color":"#555555","strokeWidth":1.3,"yOffset":-6},"encoding":{"y":{"datum":"ci","type":"nominal","scale":{"type":"point","domain":["ci","hdr","HDS-R","年齢","見当識(時間)","見当識(場所)","即時再生","連続計算","逆唱","遅延再生","物品","野菜名"],"padding":0.63},"axis":null}}},
     {"data":{"name":"one"},"mark":{"type":"rule","color":"#c0504d","strokeWidth":1,"yOffset":3.5},"encoding":{"y":{"datum":"見当識(場所)","type":"nominal","scale":{"type":"point","domain":["ci","hdr","HDS-R","年齢","見当識(時間)","見当識(場所)","即時再生","連続計算","逆唱","遅延再生","物品","野菜名"],"padding":0.63},"axis":null}}},
     {"data":{"name":"one"},"mark":{"type":"rule","color":"#c0504d","strokeWidth":1,"yOffset":4},"encoding":{"y":{"datum":"野菜名","type":"nominal","scale":{"type":"point","domain":["ci","hdr","HDS-R","年齢","見当識(時間)","見当識(場所)","即時再生","連続計算","逆唱","遅延再生","物品","野菜名"],"padding":0.63},"axis":null}}},
     {"data":{"name":"one"},"mark":{"type":"rule","color":"#555555","strokeWidth":1.3,"yOffset":7},"encoding":{"y":{"datum":"野菜名","type":"nominal","scale":{"type":"point","domain":["ci","hdr","HDS-R","年齢","見当識(時間)","見当識(場所)","即時再生","連続計算","逆唱","遅延再生","物品","野菜名"],"padding":0.63},"axis":null}}}
   ]},
   {"width":66,"height":117,"layer":[
     {"data":{"name":"tblR"},"mark":{"type":"text","font":"Liberation Serif","fontSize":6.5,"color":"#222222"},"encoding":{"y":{"field":"name","type":"nominal","scale":{"type":"point","domain":["ci","hdr","HDS-R","年齢","見当識(時間)","見当識(場所)","即時再生","連続計算","逆唱","遅延再生","物品","野菜名"],"padding":0.63},"axis":null},"text":{"field":"p","type":"quantitative","format":".3f"}}},
     {"data":{"name":"one"},"mark":{"type":"text","fontSize":6.5,"color":"#222222"},"encoding":{"y":{"datum":"hdr","type":"nominal","scale":{"type":"point","domain":["ci","hdr","HDS-R","年齢","見当識(時間)","見当識(場所)","即時再生","連続計算","逆唱","遅延再生","物品","野菜名"],"padding":0.63},"axis":null},"text":{"value":"漸近有意確率"}}},
     {"data":{"name":"one"},"mark":{"type":"rule","color":"#555555","strokeWidth":1.3,"yOffset":-6},"encoding":{"y":{"datum":"ci","type":"nominal","scale":{"type":"point","domain":["ci","hdr","HDS-R","年齢","見当識(時間)","見当識(場所)","即時再生","連続計算","逆唱","遅延再生","物品","野菜名"],"padding":0.63},"axis":null}}},
     {"data":{"name":"one"},"mark":{"type":"rule","color":"#c0504d","strokeWidth":1,"yOffset":3.5},"encoding":{"y":{"datum":"見当識(場所)","type":"nominal","scale":{"type":"point","domain":["ci","hdr","HDS-R","年齢","見当識(時間)","見当識(場所)","即時再生","連続計算","逆唱","遅延再生","物品","野菜名"],"padding":0.63},"axis":null}}},
     {"data":{"name":"one"},"mark":{"type":"rule","color":"#c0504d","strokeWidth":1,"yOffset":4},"encoding":{"y":{"datum":"野菜名","type":"nominal","scale":{"type":"point","domain":["ci","hdr","HDS-R","年齢","見当識(時間)","見当識(場所)","即時再生","連続計算","逆唱","遅延再生","物品","野菜名"],"padding":0.63},"axis":null}}},
     {"data":{"name":"one"},"mark":{"type":"rule","color":"#555555","strokeWidth":1.3,"yOffset":7},"encoding":{"y":{"datum":"野菜名","type":"nominal","scale":{"type":"point","domain":["ci","hdr","HDS-R","年齢","見当識(時間)","見当識(場所)","即時再生","連続計算","逆唱","遅延再生","物品","野菜名"],"padding":0.63},"axis":null}}}
   ]},
   {"width":8,"height":117,"layer":[
     {"data":{"name":"tblR"},"mark":{"type":"text","font":"Liberation Serif","fontSize":6.5,"color":"#222222"},"encoding":{"y":{"field":"name","type":"nominal","scale":{"type":"point","domain":["ci","hdr","HDS-R","年齢","見当識(時間)","見当識(場所)","即時再生","連続計算","逆唱","遅延再生","物品","野菜名"],"padding":0.63},"axis":null},"text":{"field":"lo","type":"quantitative","format":".3f"}}},
     {"data":{"name":"one"},"mark":{"type":"text","fontSize":6.5,"color":"#222222"},"encoding":{"y":{"datum":"hdr","type":"nominal","scale":{"type":"point","domain":["ci","hdr","HDS-R","年齢","見当識(時間)","見当識(場所)","即時再生","連続計算","逆唱","遅延再生","物品","野菜名"],"padding":0.63},"axis":null},"text":{"value":"下限"}}},
     {"data":{"name":"one"},"mark":{"type":"text","fontSize":6.5,"color":"#222222","align":"left","dx":-12},"encoding":{"y":{"datum":"ci","type":"nominal","scale":{"type":"point","domain":["ci","hdr","HDS-R","年齢","見当識(時間)","見当識(場所)","即時再生","連続計算","逆唱","遅延再生","物品","野菜名"],"padding":0.63},"axis":null},"text":{"value":"漸近 95% 信頼区間"}}},
     {"data":{"name":"one"},"mark":{"type":"rule","color":"#555555","strokeWidth":1.3,"yOffset":-6},"encoding":{"y":{"datum":"ci","type":"nominal","scale":{"type":"point","domain":["ci","hdr","HDS-R","年齢","見当識(時間)","見当識(場所)","即時再生","連続計算","逆唱","遅延再生","物品","野菜名"],"padding":0.63},"axis":null}}},
     {"data":{"name":"one"},"mark":{"type":"rule","color":"#c0504d","strokeWidth":1,"yOffset":3.5},"encoding":{"y":{"datum":"見当識(場所)","type":"nominal","scale":{"type":"point","domain":["ci","hdr","HDS-R","年齢","見当識(時間)","見当識(場所)","即時再生","連続計算","逆唱","遅延再生","物品","野菜名"],"padding":0.63},"axis":null}}},
     {"data":{"name":"one"},"mark":{"type":"rule","color":"#c0504d","strokeWidth":1,"yOffset":4},"encoding":{"y":{"datum":"野菜名","type":"nominal","scale":{"type":"point","domain":["ci","hdr","HDS-R","年齢","見当識(時間)","見当識(場所)","即時再生","連続計算","逆唱","遅延再生","物品","野菜名"],"padding":0.63},"axis":null}}},
     {"data":{"name":"one"},"mark":{"type":"rule","color":"#555555","strokeWidth":1.3,"yOffset":7},"encoding":{"y":{"datum":"野菜名","type":"nominal","scale":{"type":"point","domain":["ci","hdr","HDS-R","年齢","見当識(時間)","見当識(場所)","即時再生","連続計算","逆唱","遅延再生","物品","野菜名"],"padding":0.63},"axis":null}}}
   ]},
   {"width":41,"height":117,"layer":[
     {"data":{"name":"tblR"},"mark":{"type":"text","font":"Liberation Serif","fontSize":6.5,"color":"#222222"},"encoding":{"y":{"field":"name","type":"nominal","scale":{"type":"point","domain":["ci","hdr","HDS-R","年齢","見当識(時間)","見当識(場所)","即時再生","連続計算","逆唱","遅延再生","物品","野菜名"],"padding":0.63},"axis":null},"text":{"field":"hi","type":"quantitative","format":".3f"}}},
     {"data":{"name":"one"},"mark":{"type":"text","fontSize":6.5,"color":"#222222"},"encoding":{"y":{"datum":"hdr","type":"nominal","scale":{"type":"point","domain":["ci","hdr","HDS-R","年齢","見当識(時間)","見当識(場所)","即時再生","連続計算","逆唱","遅延再生","物品","野菜名"],"padding":0.63},"axis":null},"text":{"value":"上限"}}},
     {"data":{"name":"one"},"mark":{"type":"rule","color":"#555555","strokeWidth":1.3,"yOffset":-6},"encoding":{"y":{"datum":"ci","type":"nominal","scale":{"type":"point","domain":["ci","hdr","HDS-R","年齢","見当識(時間)","見当識(場所)","即時再生","連続計算","逆唱","遅延再生","物品","野菜名"],"padding":0.63},"axis":null}}},
     {"data":{"name":"one"},"mark":{"type":"rule","color":"#c0504d","strokeWidth":1,"yOffset":3.5},"encoding":{"y":{"datum":"見当識(場所)","type":"nominal","scale":{"type":"point","domain":["ci","hdr","HDS-R","年齢","見当識(時間)","見当識(場所)","即時再生","連続計算","逆唱","遅延再生","物品","野菜名"],"padding":0.63},"axis":null}}},
     {"data":{"name":"one"},"mark":{"type":"rule","color":"#c0504d","strokeWidth":1,"yOffset":4},"encoding":{"y":{"datum":"野菜名","type":"nominal","scale":{"type":"point","domain":["ci","hdr","HDS-R","年齢","見当識(時間)","見当識(場所)","即時再生","連続計算","逆唱","遅延再生","物品","野菜名"],"padding":0.63},"axis":null}}},
     {"data":{"name":"one"},"mark":{"type":"rule","color":"#555555","strokeWidth":1.3,"yOffset":7},"encoding":{"y":{"datum":"野菜名","type":"nominal","scale":{"type":"point","domain":["ci","hdr","HDS-R","年齢","見当識(時間)","見当識(場所)","即時再生","連続計算","逆唱","遅延再生","物品","野菜名"],"padding":0.63},"axis":null}}}
   ]}
  ],"spacing":0,"bounds":"flush","resolve":{"scale":{"y":"independent"}}}
 ],"spacing":0,"bounds":"flush"}
],"spacing":0,"bounds":"flush"}
]
}
